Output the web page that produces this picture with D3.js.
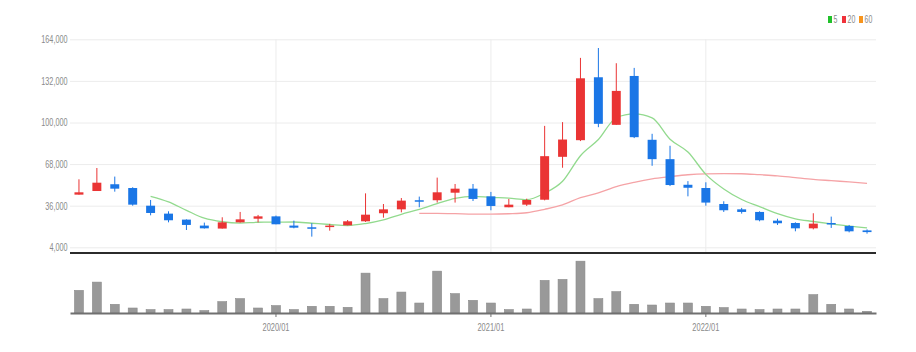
<!DOCTYPE html>
<meta charset="utf-8">
<style>
  body { margin: 0; background: #fff; }
  text { font-family: "Liberation Sans", Arial, sans-serif; fill: #8a8a8a; }
  .grid line { stroke: #ececec; }
  .grid path { display: none; }
  .candle.up { fill: #ea3434; stroke: #ea3434; }
  .candle.down { fill: #1a76e6; stroke: #1a76e6; }
</style>
<body>
<script src="https://cdnjs.cloudflare.com/ajax/libs/d3/7.8.5/d3.min.js"></script>
<script>

  // monthly bars, 2019/02 .. 2022/10
  var months = ["2019/02","2019/03","2019/04","2019/05","2019/06","2019/07","2019/08","2019/09","2019/10","2019/11","2019/12",
                "2020/01","2020/02","2020/03","2020/04","2020/05","2020/06","2020/07","2020/08","2020/09","2020/10","2020/11","2020/12",
                "2021/01","2021/02","2021/03","2021/04","2021/05","2021/06","2021/07","2021/08","2021/09","2021/10","2021/11","2021/12",
                "2022/01","2022/02","2022/03","2022/04","2022/05","2022/06","2022/07","2022/08","2022/09","2022/10"];
  var open  = [44500,47300,52500,49600,36000,29900,25300,20700,18400,23200,26000,27800,20700,19400,19600,20900,24000,30200,33200,40200,40200,46000,49100,
               43200,34800,36800,40600,73600,86400,134800,98200,135800,86700,71800,52100,49600,37300,33200,31200,24500,22700,18600,22700,20400,17000];
  var high  = [56300,65000,58400,50200,40400,31700,25500,23000,27100,31200,28900,28400,24500,22500,22000,25000,45500,37300,41900,43000,57600,52700,52700,
               46600,41200,41400,97400,100300,149700,157300,145600,142000,91300,82100,54900,54000,39400,34300,31700,26000,23200,30200,27600,21200,17800];
  var low   = [44500,47300,46800,36000,28600,23200,17300,18400,18400,23000,23200,21700,18600,12200,16800,20900,23500,26800,30900,34800,38400,38400,39600,
               32500,34800,35800,40100,65200,85700,96400,98200,88000,66700,51100,43200,36000,31200,29900,24000,21200,16300,17800,18900,15500,14500];
  var close = [46300,53700,49100,36800,30400,24800,21200,18600,23200,25500,27800,21700,19100,18400,20700,24000,29100,33200,39900,39600,46300,49100,41200,
               35800,36800,40400,74100,86900,134000,99000,124300,88700,71800,51900,49800,38400,32500,31200,24800,22500,18600,22200,21700,16300,15700];
  var volume = [2270,3100,870,500,340,340,400,240,1140,1440,500,740,340,670,670,570,4000,1440,2100,1000,4200,1940,1270,
                1000,340,400,3270,3370,5200,1440,2140,870,800,1000,1000,670,540,400,340,400,400,1840,870,400,170];

  var priceTicks = [4000, 36000, 68000, 100000, 132000, 164000];
  var yearTicks = ["2020/01", "2021/01", "2022/01"];
  var legendItems = [{label: "5", color: "#21c12b"}, {label: "20", color: "#f0323a"}, {label: "60", color: "#f7941d"}];

  var W = 916, H = 352;
  var left = 70, right = 876;

  var svg = d3.select("body").append("svg")
      .attr("width", W)
      .attr("height", H);

  var x = d3.scaleBand().domain(months).range([left, right]).paddingInner(0.5).paddingOuter(0.25);
  var y = d3.scaleLinear().domain([0, 164000]).range([252.5, 39.3]);
  var yv = d3.scaleLinear().domain([0, d3.max(volume) * 1.1]).range([313, 256]);

  function cx(i) { return x(months[i]) + x.bandwidth() / 2; }

  // horizontal grid + price labels
  var gy = svg.append("g")
      .attr("class", "grid")
      .attr("transform", "translate(" + left + ",0)")
      .call(d3.axisLeft(y).tickValues(priceTicks).tickSize(-(right - left)).tickPadding(0).tickFormat(""));

  svg.append("g").selectAll("text")
      .data(priceTicks)
      .join("text")
      .attr("transform", function(d) { return "translate(" + (left - 2.5) + "," + y(d) + ") scale(0.66,1)"; })
      .attr("dy", "0.35em")
      .attr("text-anchor", "end")
      .style("font-size", "11px")
      .text(d3.format(","));

  // vertical grid at year ticks
  svg.append("g").selectAll("line")
      .data(yearTicks)
      .join("line")
      .attr("x1", function(d) { return x(d) + x.bandwidth() / 2; })
      .attr("x2", function(d) { return x(d) + x.bandwidth() / 2; })
      .attr("y1", 39.3)
      .attr("y2", 252)
      .attr("stroke", "#ececec");

  // moving averages of close
  function ma(n) {
    var out = [];
    for (var i = n - 1; i < close.length; i++) {
      out.push({i: i, v: d3.mean(close.slice(i - n + 1, i + 1))});
    }
    return out;
  }
  var line = d3.line().x(function(d) { return cx(d.i); }).y(function(d) { return y(d.v); }).curve(d3.curveMonotoneX);

  svg.append("path").datum(ma(20))
      .attr("d", line).attr("fill", "none").attr("stroke", "#f5a3a6").attr("stroke-width", 1.3);
  svg.append("path").datum(ma(5))
      .attr("d", line).attr("fill", "none").attr("stroke", "#92da8e").attr("stroke-width", 1.3);

  // candles
  var idx = d3.range(months.length);
  var candles = svg.append("g").selectAll("g")
      .data(idx)
      .join("g")
      .attr("class", function(i) { return "candle " + (close[i] >= open[i] ? "up" : "down"); });

  candles.append("line")
      .attr("x1", cx).attr("x2", cx)
      .attr("y1", function(i) { return y(high[i]); })
      .attr("y2", function(i) { return y(low[i]); })
      .attr("stroke-width", 1);

  candles.append("rect")
      .attr("x", function(i) { return x(months[i]); })
      .attr("width", x.bandwidth())
      .attr("y", function(i) { return y(Math.max(open[i], close[i])); })
      .attr("height", function(i) { return Math.max(1.5, Math.abs(y(open[i]) - y(close[i]))); })
      .attr("stroke-width", 0);

  // panel separator
  svg.append("line")
      .attr("x1", left).attr("x2", right)
      .attr("y1", 253).attr("y2", 253)
      .attr("stroke", "#2b2b2b").attr("stroke-width", 2);

  // volume bars
  svg.append("g").selectAll("rect")
      .data(idx)
      .join("rect")
      .attr("x", function(i) { return x(months[i]); })
      .attr("width", x.bandwidth())
      .attr("y", function(i) { return yv(volume[i]); })
      .attr("height", function(i) { return yv(0) - yv(volume[i]); })
      .attr("fill", "#999")
      .attr("stroke", "#8a8a8a")
      .attr("stroke-width", 0.6);

  var xAxis = svg.append("g")
      .attr("transform", "translate(0," + yv(0) + ")")
      .call(d3.axisBottom(x).tickValues(yearTicks).tickSize(4).tickSizeOuter(0).tickPadding(6));
  xAxis.select(".domain").attr("stroke", "#707070").attr("stroke-width", 2);
  xAxis.selectAll(".tick line").attr("stroke", "#707070");
  xAxis.selectAll(".tick text")
      .attr("fill", "#8a8a8a")
      .style("font-size", "11px")
      .style("font-family", "Liberation Sans, Arial, sans-serif")
      .attr("transform", "scale(0.68,1)")
      .attr("x", 0);

  // legend
  var lg = svg.append("g").selectAll("g")
      .data(legendItems)
      .join("g")
      .attr("transform", function(d, i) { return "translate(" + [828, 842, 859][i] + ",16)"; });
  lg.append("rect").attr("width", 4).attr("height", 7).attr("fill", function(d) { return d.color; });
  lg.append("text")
      .attr("transform", "translate(5.5,7) scale(0.7,1)")
      .style("font-size", "10px")
      .text(function(d) { return d.label; });

</script>
